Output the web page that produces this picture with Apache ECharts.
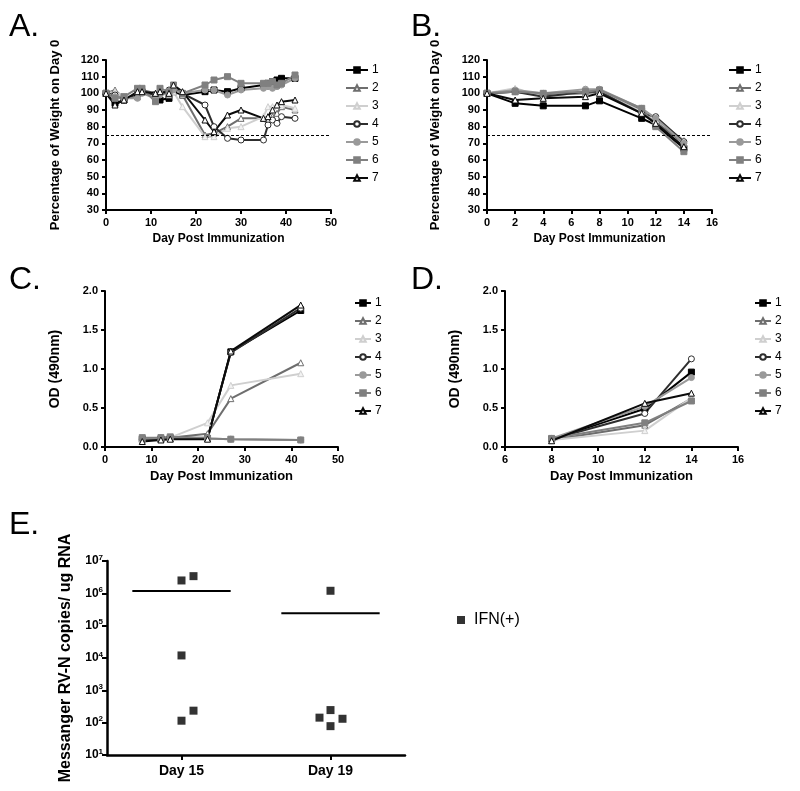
<!DOCTYPE html>
<html>
<head>
<meta charset="utf-8">
<script src="https://cdn.jsdelivr.net/npm/echarts@6/dist/echarts.min.js"></script>
<style>html,body{margin:0;padding:0;background:#fff;}#c{width:800px;height:791px;}</style>
</head>
<body>
<div id="c"></div>
<script>
// ---------- DATA ----------
const seriesNames = ['1','2','3','4','5','6','7'];

// Panel A: weight (% of day 0)
const daysA = [0,2,4,7,8,11,12,14,15,17,22,24,27,30,35,36,37,38,39,42];
const weightA1 = [100,94,96,100,101,99,96,97,101,99,101,102,101,103,105,106,107,108,109,109];
const weightA2 = [100,102,97,98,102,100,101,99,104,99,75,76,80,85,85,84,86,88,92,90];
const weightA3 = [100,101,98,99,101,98,100,100,101,92,74,74,79,80,86,92,92,93,93,91];
const weightA4 = [100,99,96,100,101,99,100,102,103,100,93,80,73,72,72,81,84,82,86,85];
const weightA5 = [100,98,97,97,100,97,99,100,102,100,102,102,99,102,103,104,103,104,105,109];
const weightA6 = [100,97,98,103,103,95,103,101,105,100,105,108,110,106,106,106,107,105,106,111];
const weightA7 = [100,93,96,101,101,100,101,100,105,101,84,77,87,90,85,86,90,93,95,96];

// Panel B: weight (% of day 0)
const daysB = [0,2,4,7,8,11,12,14];
const weightB1 = [100,94,92.5,92.5,95.5,85,81,67];
const weightB2 = [100,101,99,100,101,90,83,70];
const weightB3 = [100,103,98,101,101,89,84,72];
const weightB4 = [100,101,98,101,101,88,86,71];
const weightB5 = [100,102,100,102.5,102.5,91,85,70];
const weightB6 = [100,101,100,101,102,91,80,65];
const weightB7 = [100,96,97,98,100,88,82,68];

// Panel C: OD (490nm)
const daysC = [8,12,14,22,27,42];
const odC1 = [0.10,0.10,0.11,0.11,1.22,1.75];
const odC2 = [0.09,0.11,0.12,0.17,0.62,1.08];
const odC3 = [0.10,0.12,0.12,0.31,0.79,0.94];
const odC4 = [0.10,0.11,0.12,0.12,1.21,1.78];
const odC5 = [0.11,0.12,0.12,0.11,0.10,0.09];
const odC6 = [0.12,0.12,0.13,0.11,0.10,0.09];
const odC7 = [0.07,0.09,0.10,0.10,1.23,1.82];

// Panel D: OD (490nm)
const daysD = [8,12,14];
const odD1 = [0.10,0.49,0.96];
const odD2 = [0.09,0.28,0.62];
const odD3 = [0.09,0.21,0.63];
const odD4 = [0.10,0.43,1.13];
const odD5 = [0.11,0.52,0.89];
const odD6 = [0.11,0.31,0.59];
const odD7 = [0.08,0.56,0.69];

// Panel E: RV-N copies / ug RNA
const groupsE = ['Day 15','Day 19'];
const copiesDay15 = [2.5e6, 3.4e6, 1.2e4, 235, 115];
const copiesDay19 = [1.2e6, 245, 143, 132, 78];
const jitterDay15 = [0, 12, 0, 12, 0];   // horizontal jitter (px) of the dot plot
const jitterDay19 = [0, 0, -11, 12, 0];
const thresholdWeight = 75;

// ---------- STYLE ----------
const FONT = '"Liberation Sans", Arial, sans-serif';
const styleDefs = {
  '1': {color:'#000000', symbol:'rect', fill:'#000000'},
  '2': {color:'#6e6e6e', symbol:'triangle', fill:'#ffffff'},
  '3': {color:'#cfcfcf', symbol:'triangle', fill:'#f2f2f2'},
  '4': {color:'#2e2e2e', symbol:'circle', fill:'#ffffff'},
  '5': {color:'#9a9a9a', symbol:'circle', fill:'#9a9a9a'},
  '6': {color:'#808080', symbol:'rect', fill:'#808080'},
  '7': {color:'#0a0a0a', symbol:'triangle', fill:'#ffffff'}
};

const panels = [
  {days: daysA, vals: [weightA1,weightA2,weightA3,weightA4,weightA5,weightA6,weightA7], threshold: true},
  {days: daysB, vals: [weightB1,weightB2,weightB3,weightB4,weightB5,weightB6,weightB7], threshold: true},
  {days: daysC, vals: [odC1,odC2,odC3,odC4,odC5,odC6,odC7]},
  {days: daysD, vals: [odD1,odD2,odD3,odD4,odD5,odD6,odD7]}
];

const grids = [
  {left:106, top:60, width:225, height:150},
  {left:487, top:60, width:225, height:150},
  {left:105, top:291, width:233, height:156},
  {left:505, top:291, width:233, height:156},
  {left:107, top:561, width:298, height:194}
];

const axisLine = {show:true, lineStyle:{color:'#000', width:2}};
const axisTick = {show:true, length:4, lineStyle:{color:'#000', width:2}};
const tickLabel = {color:'#000', fontFamily:FONT, fontWeight:'bold', fontSize:11, margin:7};

function xAxisFor(i, min, max, interval, fs, gap) {
  return {type:'value', gridIndex:i, min:min, max:max, interval:interval,
    name:'Day Post Immunization', nameLocation:'middle', nameGap:gap,
    nameTextStyle:{color:'#000', fontFamily:FONT, fontWeight:'bold', fontSize:fs},
    axisLine:axisLine, axisTick:axisTick, axisLabel:tickLabel, splitLine:{show:false}};
}
function yAxisFor(i, min, max, interval, name, gap, fs, fmt) {
  return {type:'value', gridIndex:i, min:min, max:max, interval:interval,
    name:name, nameLocation:'middle', nameGap:gap,
    nameTextStyle:{color:'#000', fontFamily:FONT, fontWeight:'bold', fontSize:fs},
    axisLine:axisLine, axisTick:axisTick,
    axisLabel:Object.assign({}, tickLabel, fmt ? {formatter:fmt} : {}), splitLine:{show:false}};
}

const xAxes = [
  xAxisFor(0, 0, 50, 10, 12, 23),
  xAxisFor(1, 0, 16, 2, 12, 23),
  xAxisFor(2, 0, 50, 10, 13, 23),
  xAxisFor(3, 6, 16, 2, 13, 23),
  {type:'category', gridIndex:4, data:groupsE, boundaryGap:true,
    axisLine:{show:true, lineStyle:{color:'#000', width:2.5}},
    axisTick:{show:true, alignWithLabel:true, length:5, lineStyle:{color:'#000', width:2}},
    axisLabel:{color:'#000', fontFamily:FONT, fontWeight:'bold', fontSize:14, margin:9}}
];
const odFmt = v => v.toFixed(1);
const yAxes = [
  yAxisFor(0, 30, 120, 10, 'Percentage of Weight on Day 0', 44, 13),
  yAxisFor(1, 30, 120, 10, 'Percentage of Weight on Day 0', 45, 13),
  yAxisFor(2, 0, 2, 0.5, 'OD (490nm)', 43, 14, odFmt),
  yAxisFor(3, 0, 2, 0.5, 'OD (490nm)', 43, 14, odFmt),
  {type:'log', gridIndex:4, logBase:10, min:10, max:1e7, splitNumber:6,
    name:'Messanger RV-N copies/ ug RNA', nameLocation:'middle', nameGap:33,
    nameTextStyle:{color:'#000', fontFamily:FONT, fontWeight:'bold', fontSize:16},
    axisLine:{show:true, lineStyle:{color:'#000', width:2.5}},
    axisTick:{show:true, length:5, lineStyle:{color:'#000', width:2}},
    axisLabel:{margin:4, formatter: v => '{b|10}{s|' + Math.round(Math.log10(v)) + '}',
      rich:{b:{color:'#000', fontFamily:FONT, fontWeight:'bold', fontSize:12},
            s:{color:'#000', fontFamily:FONT, fontWeight:'bold', fontSize:8, padding:[0,0,7,0]}}},
    splitLine:{show:false}}
];

const series = [];
panels.forEach((p, gi) => {
  seriesNames.forEach((nm, si) => {
    const st = styleDefs[nm];
    const s = {
      type:'line', name:nm, xAxisIndex:gi, yAxisIndex:gi,
      data: p.days.map((d, k) => [d, p.vals[si][k]]),
      symbol: st.symbol, symbolSize: 6, showSymbol:true,
      lineStyle:{color:st.color, width:2},
      itemStyle:{color:st.fill, borderColor:st.color, borderWidth:1},
      z: 2, animation:false
    };
    if (p.threshold && si === 0) {
      s.markLine = {silent:true, symbol:'none', label:{show:false},
        lineStyle:{type:[3,2], color:'#000', width:1},
        data:[{yAxis:thresholdWeight}], animation:false};
    }
    series.push(s);
  });
});

const scatterE = [];
copiesDay15.forEach((v, k) => scatterE.push({value:[groupsE[0], v], symbolOffset:[jitterDay15[k], 0]}));
copiesDay19.forEach((v, k) => scatterE.push({value:[groupsE[1], v], symbolOffset:[jitterDay19[k], 0]}));
series.push({type:'scatter', name:'IFN(+)', xAxisIndex:4, yAxisIndex:4, data:scatterE,
  symbol:'rect', symbolSize:8, itemStyle:{color:'#000'}, animation:false});

const mean = a => a.reduce((s, x) => s + x, 0) / a.length;
series.push({type:'custom', name:'mean', xAxisIndex:4, yAxisIndex:4, animation:false, silent:true,
  data:[[0, mean(copiesDay15)], [1, mean(copiesDay19)]],
  renderItem:(params, api) => {
    const c = api.coord([api.value(0), api.value(1)]);
    const band = api.coord([1, api.value(1)])[0] - api.coord([0, api.value(1)])[0];
    const hw = Math.abs(band) * 0.33;
    return {type:'line', shape:{x1:c[0]-hw, y1:c[1], x2:c[0]+hw, y2:c[1]},
      style:{stroke:'#000', lineWidth:2}};
  }});

function legendAt(left, top, w) {
  return {data:seriesNames, orient:'vertical', left:left, top:top, padding:0,
    itemWidth:w, itemHeight:7, itemGap:6, selectedMode:false,
    textStyle:{color:'#000', fontFamily:FONT, fontSize:12, padding:[0,0,0,-1]}};
}

const titleStyle = {color:'#000', fontFamily:FONT, fontSize:32, fontWeight:'normal'};
const option = {
  backgroundColor:'#fff',
  animation:false,
  title:[
    {text:'A.', left:4, top:6, textStyle:titleStyle},
    {text:'B.', left:406, top:6, textStyle:titleStyle},
    {text:'C.', left:4, top:259, textStyle:titleStyle},
    {text:'D.', left:406, top:259, textStyle:titleStyle},
    {text:'E.', left:4, top:504, textStyle:titleStyle}
  ],
  grid: grids,
  xAxis: xAxes,
  yAxis: yAxes,
  legend:[
    legendAt(345, 64, 22),
    legendAt(728, 64, 22),
    legendAt(354, 297, 16),
    legendAt(754, 297, 16),
    {data:[{name:'IFN(+)', icon:'rect'}], left:457, top:612, padding:0, itemWidth:8, itemHeight:8, itemGap:0, selectedMode:false,
      textStyle:{color:'#000', fontFamily:FONT, fontSize:16, padding:[0,0,0,4]}}
  ],
  series: series
};

const chart = echarts.init(document.getElementById('c'), null, {renderer:'canvas'});
chart.setOption(option);
</script>
</body>
</html>
